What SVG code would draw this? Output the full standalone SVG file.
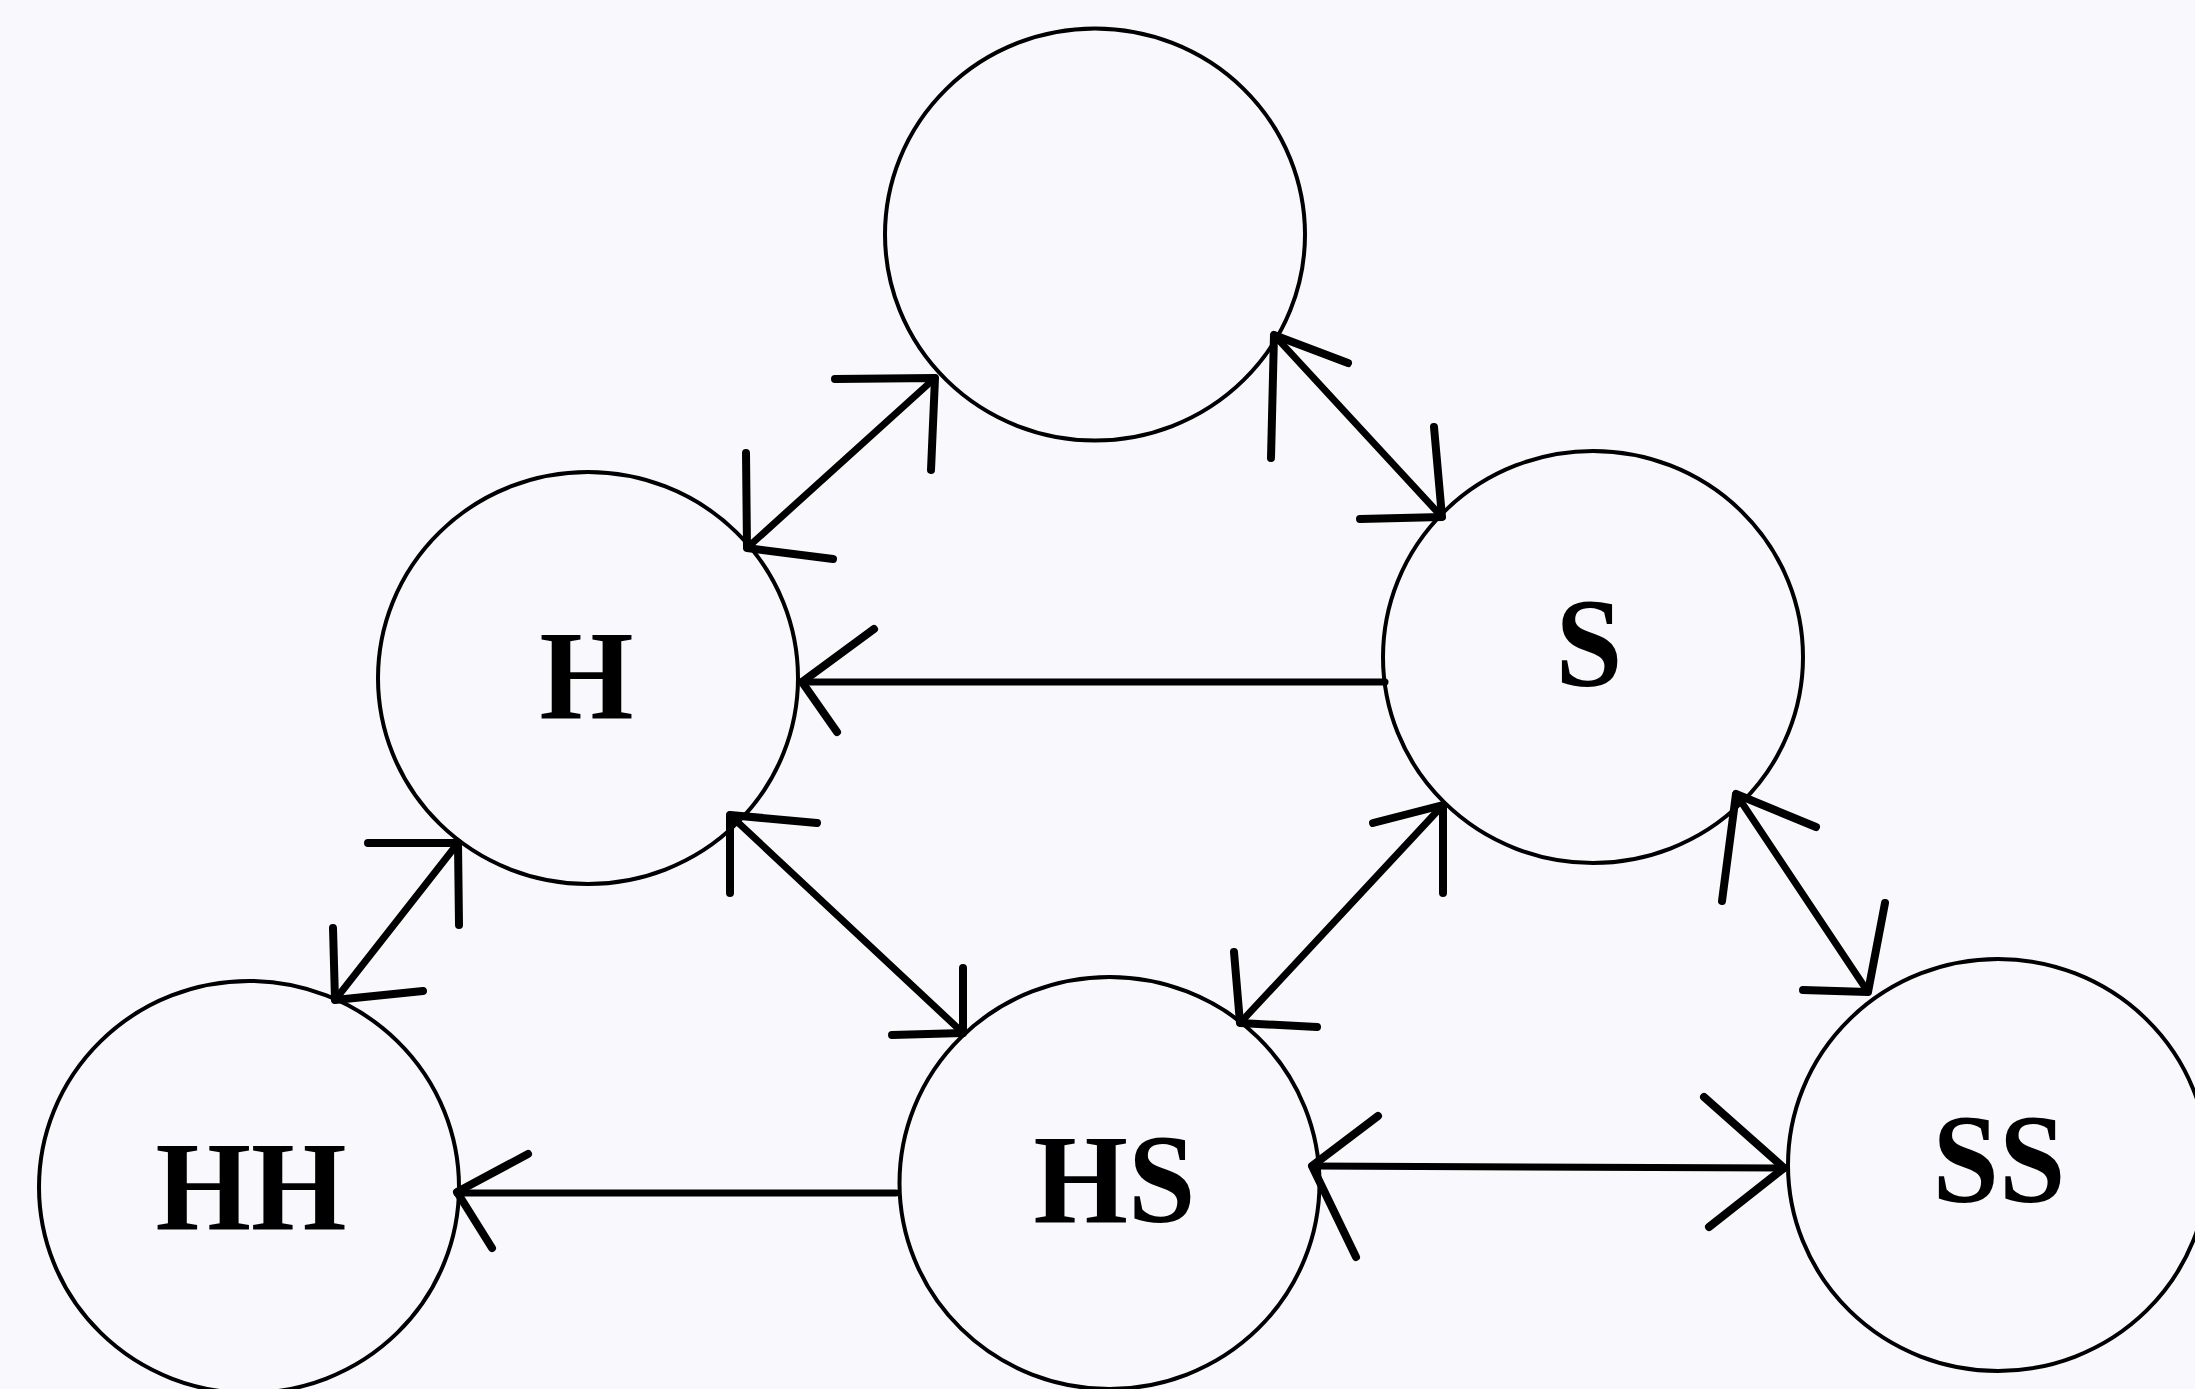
<svg xmlns="http://www.w3.org/2000/svg" width="2195" height="1389" viewBox="0 0 2195 1389">
<style>
.node{fill:none;stroke:#000;stroke-width:4}
.lbl{font-family:"Liberation Serif","Times New Roman",serif;font-weight:bold;font-size:127px;fill:#000;text-anchor:middle}
.edge{fill:none;stroke:#000;stroke-width:7;stroke-linecap:round}
.head{fill:none;stroke:#000;stroke-width:8;stroke-linecap:round;stroke-linejoin:round}
</style>
<rect width="2195" height="1389" fill="#f9f9fd"/>
<g id="node-top"><ellipse class="node" cx="1095" cy="234.5" rx="210" ry="206"/></g>
<g id="node-H"><ellipse class="node" cx="588" cy="678" rx="210" ry="206"/><text class="lbl" x="586.5" y="718" textLength="94" lengthAdjust="spacingAndGlyphs">H</text></g>
<g id="node-S"><ellipse class="node" cx="1593" cy="657" rx="210" ry="206"/><text class="lbl" x="1589" y="686" textLength="67" lengthAdjust="spacingAndGlyphs">S</text></g>
<g id="node-HH"><ellipse class="node" cx="249" cy="1187" rx="210" ry="206"/><text class="lbl" x="251" y="1229" textLength="191" lengthAdjust="spacingAndGlyphs">HH</text></g>
<g id="node-HS"><ellipse class="node" cx="1109.5" cy="1183" rx="210" ry="206"/><text class="lbl" x="1114.5" y="1222" textLength="162" lengthAdjust="spacingAndGlyphs">HS</text></g>
<g id="node-SS"><ellipse class="node" cx="1998" cy="1165" rx="210" ry="206"/><text class="lbl" x="1999" y="1202" textLength="133" lengthAdjust="spacingAndGlyphs">SS</text></g>
<g id="connectors">
<!-- H <-> top -->
<line class="edge" x1="747" y1="548" x2="935" y2="378"/>
<polyline class="head" points="835,379 935,378 931,470"/>
<polyline class="head" points="746,453 747,548 833,559"/>
<!-- top <-> S -->
<line class="edge" x1="1274" y1="335" x2="1442" y2="517"/>
<polyline class="head" points="1348,363 1274,335 1271,458"/>
<polyline class="head" points="1434,427 1442,517 1360,519"/>
<!-- S -> H -->
<line class="edge" x1="802" y1="682" x2="1385" y2="682"/>
<polyline class="head" points="874,629 802,682 837,732"/>
<!-- H <-> HH -->
<line class="edge" x1="458" y1="843" x2="335" y2="1000"/>
<polyline class="head" points="368,843 458,843 459,925"/>
<polyline class="head" points="333,928 335,1000 423,991"/>
<!-- H <-> HS -->
<line class="edge" x1="730" y1="815" x2="963" y2="1033"/>
<polyline class="head" points="817,823 730,815 730,893"/>
<polyline class="head" points="963,968 963,1033 892,1035"/>
<!-- S <-> HS -->
<line class="edge" x1="1443" y1="805" x2="1240" y2="1023"/>
<polyline class="head" points="1373,823 1443,805 1443,893"/>
<polyline class="head" points="1234,952 1240,1023 1317,1027"/>
<!-- S <-> SS -->
<line class="edge" x1="1736" y1="794" x2="1868" y2="992"/>
<polyline class="head" points="1816,827 1736,794 1722,901"/>
<polyline class="head" points="1885,903 1868,992 1803,990"/>
<!-- HS -> HH -->
<line class="edge" x1="457" y1="1193" x2="896" y2="1193"/>
<polyline class="head" points="528,1154 457,1192 492,1248"/>
<!-- HS <-> SS -->
<line class="edge" x1="1312" y1="1166" x2="1784" y2="1168"/>
<polyline class="head" points="1378,1116 1312,1166 1356,1257"/>
<polyline class="head" points="1704,1097 1784,1168 1709,1227"/>
</g>
</svg>
